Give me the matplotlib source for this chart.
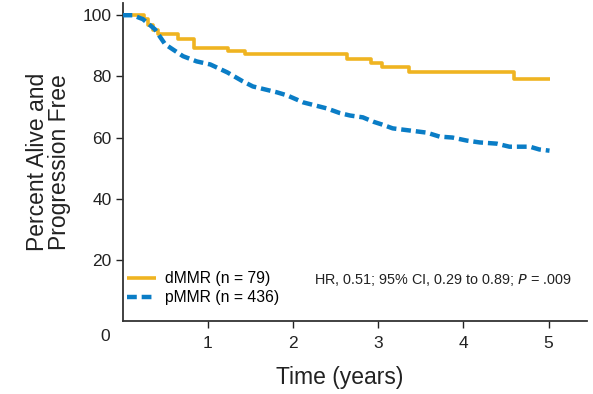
import matplotlib
matplotlib.use("Agg")
import matplotlib.pyplot as plt

# Kaplan-Meier estimates (time in years, percent)
d_time = [0, 0.25, 0.30, 0.36, 0.42, 0.65, 0.84, 1.24, 1.44, 2.63, 2.92, 3.05, 3.36, 4.59, 5.01]
d_surv = [100, 98.7, 96.8, 95.2, 93.8, 92.1, 89.4, 88.3, 87.2, 85.6, 84.3, 83.1, 81.4, 79.3, 79.3]

p_time = [0, 0.12, 0.24, 0.38, 0.50, 0.71, 0.87, 1.03, 1.23, 1.41, 1.53, 1.81, 1.93,
          2.12, 2.40, 2.55, 2.67, 2.82, 2.94, 3.04, 3.17, 3.37, 3.57, 3.72, 3.87,
          4.04, 4.19, 4.39, 4.54, 4.78, 4.89, 5.01]
p_surv = [100, 100, 98.7, 95.4, 90.5, 86.6, 84.9, 83.9, 81.3, 78.4, 76.7, 74.8, 73.8,
          71.5, 69.5, 68.0, 67.2, 66.6, 65.2, 64.3, 63.0, 62.3, 61.6, 60.3, 60.0,
          59.0, 58.4, 58.0, 57.0, 57.0, 56.1, 55.7]

x_ticks = [1, 2, 3, 4, 5]
y_ticks = [20, 40, 60, 80, 100]

plt.rcParams['font.family'] = ['Liberation Sans', 'DejaVu Sans']

fig = plt.figure(figsize=(5.93, 3.94), dpi=100)
ax = fig.add_axes([0.2066, 0.1853, 0.7833, 0.8071])

gold = "#efb421"
blue = "#0a7dc6"
ax.plot(d_time, d_surv, drawstyle="steps-post", color=gold, lw=2.6,
        solid_capstyle="butt", label="dMMR (n = 79)", zorder=2)
ax.plot(p_time, p_surv, color=blue, lw=3.2, ls=(0, (2.2, 1.1)),
        label="pMMR (n = 436)", zorder=3)

ax.set_xlim(0, 5.45)
ax.set_ylim(0, 104)
ax.set_xticks(x_ticks)
ax.set_yticks(y_ticks)
ax.tick_params(labelsize=12.5, colors="#222222", length=5, width=1, pad=6)
ax.tick_params(axis="y", pad=3)
for s in ["top", "right"]:
    ax.spines[s].set_visible(False)
for s in ["left", "bottom"]:
    ax.spines[s].set_linewidth(1.3)
    ax.spines[s].set_color("#333333")

ax.text(-0.2, -0.026, "0", transform=ax.get_xaxis_transform(), ha="center",
        va="top", fontsize=12.5, color="#222222")

ax.set_xlabel("Time (years)", fontsize=16.5, color="#222222")
ax.xaxis.set_label_coords(0.467, -0.14)
ax.set_ylabel("Percent Alive and\nProgression Free", fontsize=16.5,
              color="#222222", linespacing=0.95)
ax.yaxis.set_label_coords(-0.11, 0.5)

ax.legend(loc="lower left", bbox_to_anchor=(-0.01, 0.02), frameon=False,
          fontsize=11.3, handlelength=1.8, handletextpad=0.6, labelspacing=0.25,
          borderaxespad=0.2)
ax.text(5.27, 13.3, "HR, 0.51; 95% CI, 0.29 to 0.89; $\\it{P}$ = .009",
        ha="right", va="center", fontsize=10.4, color="#222222")

fig.savefig("out.png", dpi=100)
